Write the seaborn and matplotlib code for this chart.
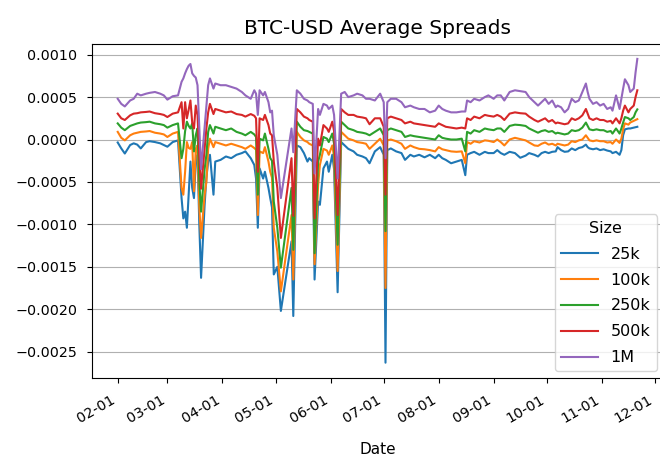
import matplotlib
matplotlib.use("Agg")
import matplotlib.pyplot as plt
import matplotlib.dates as mdates
from matplotlib.ticker import MultipleLocator
import pandas as pd
import seaborn as sns

start_date = "2022-02-01"
# day offsets from start_date
days = [0, 2, 4, 7, 9, 11, 13, 16, 18, 21,
        24, 26, 28, 31, 34, 36, 37, 38, 39, 40,
        41, 42, 43, 44, 45, 46, 47, 49, 50, 51,
        52, 54, 55, 58, 61, 64, 67, 70, 72, 75,
        77, 78, 79, 80, 82, 83, 85, 86, 87, 88,
        90, 92, 98, 99, 101, 103, 105, 107, 108, 110,
        111, 113, 114, 116, 118, 119, 121, 122, 124, 126,
        128, 130, 133, 135, 138, 140, 142, 145, 148, 150,
        151, 152, 154, 157, 160, 162, 165, 167, 170, 173,
        176, 179, 181, 183, 185, 188, 191, 194, 196, 197,
        199, 201, 204, 207, 209, 212, 214, 216, 218, 221,
        224, 227, 230, 232, 235, 237, 239, 241, 243, 245,
        247, 248, 250, 252, 254, 256, 258, 260, 262, 264,
        265, 266, 268, 270, 272, 274, 276, 278, 279, 281,
        283, 284, 285, 286, 288, 289, 291, 292, 293]

# spreads in units of 1e-4
s_1m = [4.8, 4.2, 3.9, 4.6, 4.8, 5.4, 5.2, 5.4, 5.5, 5.6,
        5.4, 5.2, 4.7, 5.1, 5.2, 6.8, 7.2, 7.8, 8.3, 8.7,
        8.9, 7.8, 7.5, 7.3, 6.4, 1.3, -3.5, 1.5, 4.0, 6.4,
        7.2, 6.0, 6.6, 6.4, 6.4, 6.2, 6.0, 5.6, 5.2, 4.8,
        5.8, 5.4, 2.9, 5.8, 5.2, 5.6, 4.4, 3.2, 3.4, 0.5,
        -1.8, -6.9, 1.3, -1.5, 5.8, 5.4, 4.8, 4.6, 4.4, 4.2,
        -4.0, 3.6, 2.9, 4.2, 4.0, 3.6, 4.0, 2.9, -4.6, 5.4,
        5.6, 5.0, 5.2, 5.4, 5.2, 4.8, 4.8, 4.6, 5.4, 4.4,
        -2.2, 4.4, 4.8, 4.8, 4.4, 3.8, 4.0, 3.8, 3.6, 3.6,
        3.2, 3.4, 4.0, 3.6, 3.4, 3.2, 3.2, 3.3, 3.3, 4.6,
        4.4, 4.8, 4.6, 5.0, 5.2, 4.8, 5.2, 5.2, 4.6, 5.6,
        5.8, 5.7, 5.6, 5.0, 4.4, 4.0, 4.4, 4.8, 4.2, 4.6,
        3.8, 4.0, 3.8, 3.2, 3.6, 4.8, 4.4, 4.6, 5.6, 6.6,
        5.6, 4.8, 4.2, 4.4, 4.0, 4.2, 3.6, 3.8, 3.4, 5.2,
        3.6, 4.8, 6.0, 7.1, 6.4, 5.6, 6.0, 7.9, 9.5]

s_500k = [3.05, 2.5, 2.3, 2.85, 3.05, 3.1, 3.2, 3.25, 3.3, 3.1,
          3.0, 2.9, 2.65, 3.05, 3.2, 4.4, 1.3, 4.4, 2.5, 3.5,
          4.6, 2.0, 1.3, 4.0, 2.9, -2.0, -5.8, -1.0, 1.3, 3.2,
          4.2, 3.0, 3.6, 3.4, 3.2, 3.3, 3.0, 2.9, 2.7, 3.0,
          2.8, 2.5, -3.8, 2.5, 2.3, 2.9, 1.7, 0.7, 0.5, -2.6,
          -5.7, -11.6, -2.2, -9.0, 3.6, 3.2, 2.7, 2.5, 2.3, 2.1,
          -9.3, 0.1, -0.7, 1.7, 1.3, 0.9, 2.1, 1.0, -8.9, 3.6,
          3.2, 2.9, 2.9, 2.7, 2.6, 2.5, 1.8, 2.5, 2.5, 1.5,
          -6.5, 2.5, 2.7, 2.5, 2.3, 1.9, 2.1, 1.9, 1.8, 1.7,
          1.6, 1.5, 1.9, 1.7, 1.5, 1.4, 1.3, 1.4, 1.3, 2.5,
          2.3, 2.7, 2.5, 2.9, 2.8, 2.7, 2.9, 2.7, 2.3, 3.05,
          3.2, 3.1, 3.05, 2.7, 2.3, 2.1, 2.3, 2.5, 2.1, 2.3,
          1.9, 2.0, 1.9, 1.8, 1.9, 2.5, 2.3, 2.5, 2.85, 3.6,
          3.05, 2.5, 2.3, 2.5, 2.3, 2.3, 2.1, 2.2, 1.9, 2.5,
          1.9, 2.5, 3.4, 4.0, 3.2, 3.6, 4.0, 5.0, 5.8]

s_250k = [1.9, 1.4, 1.1, 1.6, 1.75, 1.9, 2.0, 2.05, 2.1, 1.9,
          1.8, 1.7, 1.4, 1.7, 1.9, -2.2, -1.1, 1.0, 2.1, 1.6,
          1.3, 1.9, -1.4, 0.5, 1.3, -5.0, -8.5, -3.5, -1.8, 0.9,
          1.7, 0.7, 1.5, 1.3, 1.1, 1.3, 0.9, 0.7, 0.5, 0.9,
          0.6, 0.3, -6.5, 0.1, -0.1, 0.7, -1.1, -2.2, -2.5, -7.3,
          -10.4, -15.1, -5.7, -13.0, 2.1, 1.5, 1.1, 1.0, 0.9, 0.7,
          -13.4, -2.6, -1.8, 0.3, 0.1, -0.3, 0.7, -0.5, -12.4, 2.1,
          1.7, 1.3, 1.1, 0.9, 0.8, 0.7, 0.5, 0.9, 1.3, 0.5,
          -10.8, 1.1, 1.3, 1.1, 0.9, 0.3, 0.5, 0.4, 0.3, 0.2,
          0.1, 0.0, 0.5, 0.2, 0.1, 0.0, 0.0, 0.1, -1.4, 0.9,
          0.7, 1.1, 0.9, 1.3, 1.2, 1.1, 1.3, 1.3, 0.9, 1.6,
          1.75, 1.7, 1.6, 1.3, 1.0, 0.8, 1.0, 1.1, 0.9, 1.0,
          0.7, 0.8, 0.7, 0.6, 0.7, 1.1, 1.0, 1.1, 1.4, 2.0,
          1.6, 1.2, 1.1, 1.2, 1.1, 1.1, 0.9, 1.0, 0.7, 1.3,
          0.7, 1.3, 2.0, 2.65, 2.5, 2.3, 2.65, 3.2, 3.55]

s_100k = [0.9, 0.2, -0.1, 0.5, 0.7, 0.8, 0.9, 0.95, 1.0, 0.8,
          0.7, 0.6, 0.3, 0.7, 0.9, -5.7, -6.5, -3.8, -0.3, -1.0,
          -1.1, -0.3, -6.1, -1.1, -0.7, -8.0, -11.6, -6.5, -5.0, -1.1,
          0.1, -0.9, -0.3, -0.5, -0.7, -0.5, -0.7, -0.9, -1.1, -0.7,
          -1.0, -1.2, -8.9, -1.4, -1.6, -0.9, -2.6, -3.8, -4.5, -10.4,
          -13.2, -17.9, -8.9, -16.5, 0.9, 0.3, -0.1, -0.3, -0.5, -0.7,
          -14.7, -5.4, -3.0, -1.1, -1.3, -1.8, -0.7, -2.0, -15.5, 0.9,
          0.5, 0.1, -0.1, -0.3, -0.4, -0.5, -1.1, -0.5, 0.1, -0.7,
          -17.5, -0.1, 0.0, -0.2, -0.5, -1.1, -0.7, -0.9, -1.1, -1.15,
          -1.25, -1.4, -0.9, -1.15, -1.25, -1.4, -1.45, -1.4, -2.8, -0.3,
          -0.5, -0.2, -0.35, -0.1, -0.15, -0.3, 0.0, -0.3, -0.7, 0.0,
          0.2, 0.05, -0.1, -0.35, -0.7, -0.75, -0.5, -0.35, -0.6, -0.5,
          -0.7, -0.5, -0.6, -0.7, -0.6, -0.2, -0.3, -0.1, 0.0, 0.5,
          0.2, -0.1, -0.2, -0.1, -0.2, -0.2, -0.35, -0.3, -0.5, 0.0,
          -0.4, 0.1, 1.2, 1.9, 1.75, 2.0, 2.2, 2.3, 2.4]

s_25k = [-0.35, -1.05, -1.65, -0.65, -0.45, -0.6, -1.05, -0.3, -0.2, -0.3,
         -0.45, -0.65, -0.85, -0.3, -0.1, -6.9, -9.3, -8.5, -10.4, -6.5,
         -2.6, -5.7, -6.9, -2.6, -1.8, -10.0, -16.3, -7.7, -4.5, -2.6,
         -1.8, -6.5, -2.6, -2.4, -2.0, -2.2, -1.8, -1.6, -1.4, -2.2,
         -3.0, -4.6, -10.4, -3.4, -4.6, -3.8, -5.7, -6.9, -8.0, -15.9,
         -15.0, -20.2, -12.0, -20.8, -0.7, -0.9, -1.6, -2.6, -2.2, -2.6,
         -16.5, -7.3, -7.7, -3.4, -2.6, -3.8, -1.8, -3.5, -18.0, -0.3,
         -0.7, -1.1, -1.4, -1.8, -2.0, -2.2, -2.8, -1.4, -0.9, -1.8,
         -26.3, -1.25, -1.05, -1.4, -1.6, -2.4, -1.8, -2.0, -1.8, -2.1,
         -1.8, -2.2, -1.8, -2.2, -2.4, -2.8, -2.6, -2.4, -4.2, -1.8,
         -1.6, -1.45, -1.8, -1.45, -1.6, -1.6, -1.25, -1.6, -1.8, -1.45,
         -1.6, -2.15, -1.9, -1.6, -1.8, -2.0, -1.6, -1.45, -1.6, -1.45,
         -1.4, -0.9, -1.25, -1.45, -1.4, -1.05, -1.25, -1.0, -0.9, -0.6,
         -0.9, -1.05, -1.15, -1.05, -1.25, -1.15, -1.3, -1.4, -1.6, -1.45,
         -1.8, -1.25, 0.5, 1.2, 1.3, 1.3, 1.4, 1.45, 1.5]

sizes = ["25k", "100k", "250k", "500k", "1M"]
series = [s_25k, s_100k, s_250k, s_500k, s_1m]

dates = pd.Timestamp(start_date) + pd.to_timedelta(days, unit="D")
frames = []
for name, vals in zip(sizes, series):
    frames.append(pd.DataFrame({"Date": dates,
                                "Spread": [v * 1e-4 for v in vals],
                                "Size": name}))
df = pd.concat(frames, ignore_index=True)

fig = plt.figure(figsize=(6.6, 4.7), dpi=100)
ax = fig.add_axes([0.139, 0.196, 0.866, 0.711])
sns.lineplot(data=df, x="Date", y="Spread", hue="Size", hue_order=sizes,
             palette="tab10", ax=ax, linewidth=1.5)

ax.set_title("BTC-USD Average Spreads", fontsize=14.5, pad=7)
ax.set_ylabel("")
ax.set_xlabel("Date", fontsize=11, labelpad=12)
ax.grid(axis="y", color="#b0b0b0", linewidth=0.8)
ax.yaxis.set_major_locator(MultipleLocator(0.0005))
ax.xaxis.set_major_locator(mdates.MonthLocator())
ax.xaxis.set_major_formatter(mdates.DateFormatter("%m-%d"))
ax.tick_params(axis="both", labelsize=10.3, pad=7)
for lbl in ax.get_xticklabels():
    lbl.set_rotation(30)
    lbl.set_ha("right")
ax.legend(title="Size", loc="lower right", fontsize=11.5, title_fontsize=11.5,
          labelspacing=0.68, handlelength=2.3, borderaxespad=0.4)

fig.savefig("out.png", dpi=100)
